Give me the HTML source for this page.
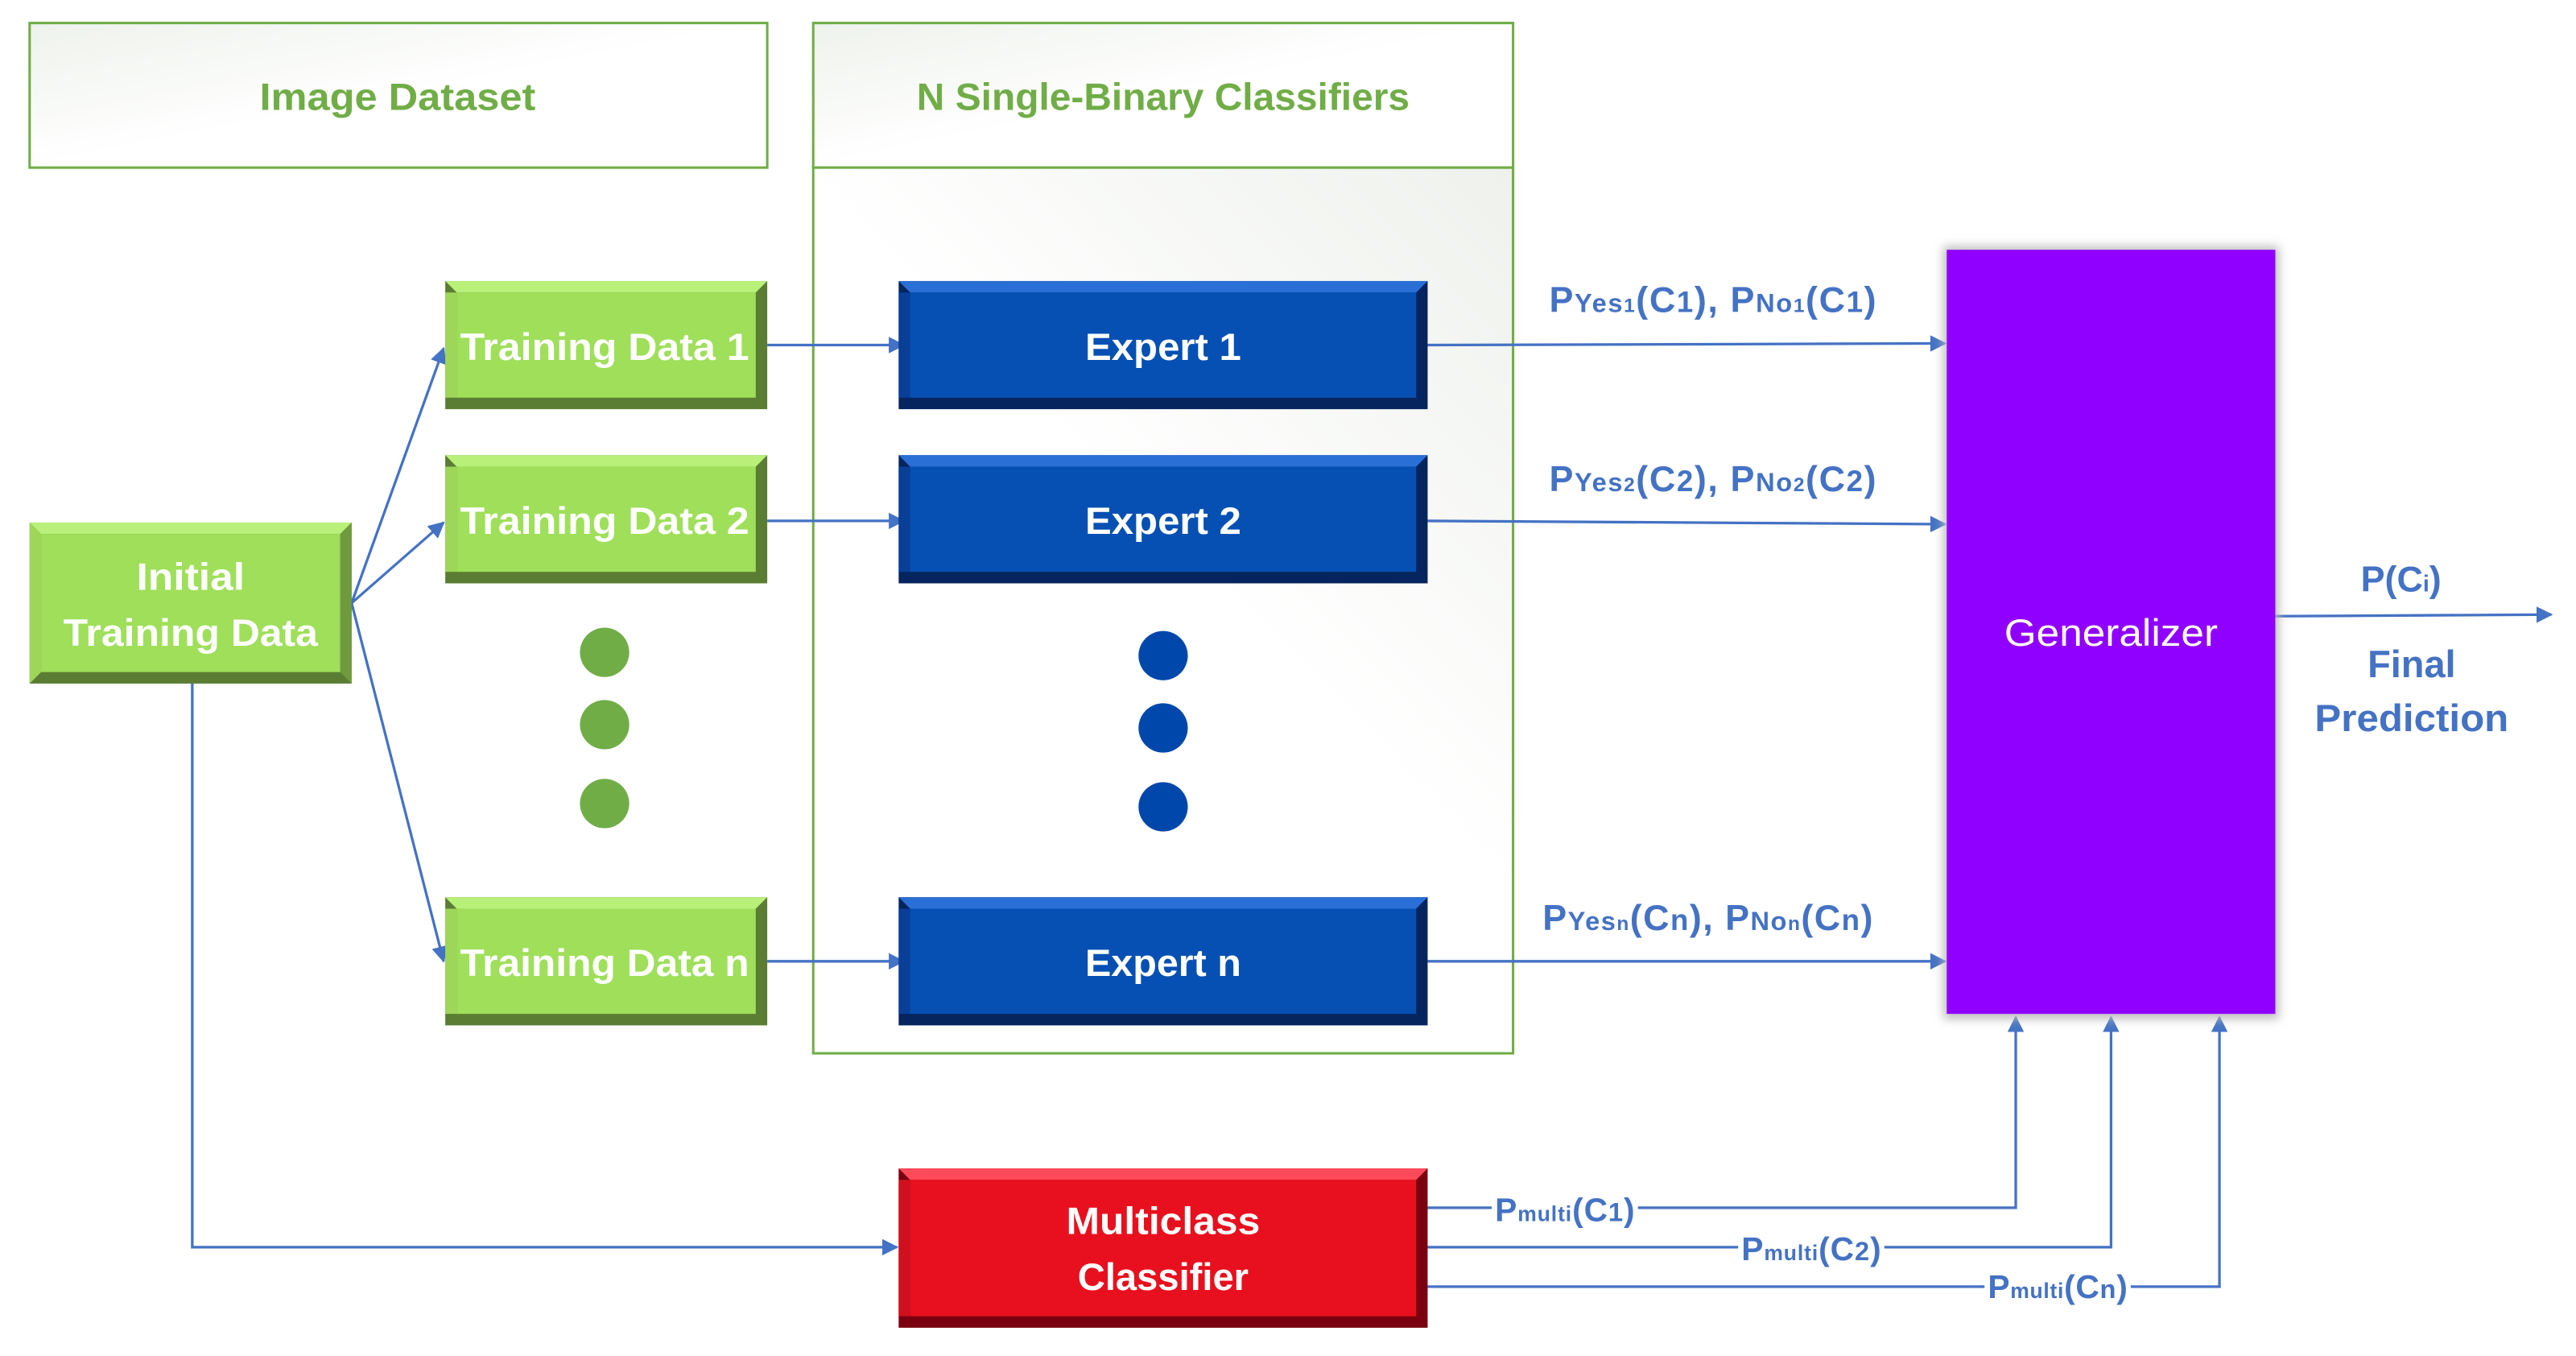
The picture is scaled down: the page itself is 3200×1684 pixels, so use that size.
<!DOCTYPE html>
<html><head><meta charset="utf-8"><style>html,body{margin:0;padding:0;background:#fff}svg{display:block}</style></head>
<body>
<svg width="3200" height="1684" viewBox="0 0 1568 825.2" xmlns="http://www.w3.org/2000/svg" font-family="Liberation Sans, sans-serif">
<defs>
<linearGradient id="hdr" x1="0" y1="0" x2="1" y2="1"><stop offset="0" stop-color="#eef2ec"/><stop offset="0.5" stop-color="#ffffff"/></linearGradient>
<linearGradient id="body" x1="1" y1="0" x2="0.6" y2="0.5"><stop offset="0" stop-color="#eef1ec"/><stop offset="1" stop-color="#ffffff"/></linearGradient>
<marker id="ar" markerWidth="10" markerHeight="10" refX="9" refY="5" orient="auto" markerUnits="userSpaceOnUse"><path d="M0,0 L10,5 L0,10 z" fill="#4472c4"/></marker>
<filter id="sh" x="-10%" y="-5%" width="120%" height="110%"><feGaussianBlur stdDeviation="3"/></filter>
</defs>

<rect x="18" y="14" width="449" height="88" fill="url(#hdr)" stroke="#70ad47" stroke-width="1.5"/>
<text x="242" y="67" text-anchor="middle" font-size="23" font-weight="bold" fill="#70ad47" textLength="168" lengthAdjust="spacingAndGlyphs">Image Dataset</text>
<rect x="495" y="14" width="426" height="88" fill="url(#hdr)" stroke="#70ad47" stroke-width="1.5"/>
<text x="708" y="67" text-anchor="middle" font-size="23" font-weight="bold" fill="#70ad47" textLength="300" lengthAdjust="spacingAndGlyphs">N Single-Binary Classifiers</text>
<rect x="495" y="102" width="426" height="539" fill="url(#body)" stroke="#70ad47" stroke-width="1.5"/>

<g stroke="#4472c4" stroke-width="1.6" fill="none">
<line x1="214" y1="367" x2="270" y2="212" marker-end="url(#ar)"/>
<line x1="214" y1="367" x2="270" y2="318" marker-end="url(#ar)"/>
<line x1="214" y1="367" x2="270" y2="585" marker-end="url(#ar)"/>
<line x1="467" y1="210" x2="550" y2="210" marker-end="url(#ar)"/>
<line x1="467" y1="317" x2="550" y2="317" marker-end="url(#ar)"/>
<line x1="467" y1="585" x2="550" y2="585" marker-end="url(#ar)"/>
<line x1="869" y1="210" x2="1184" y2="209" marker-end="url(#ar)"/>
<line x1="869" y1="317" x2="1184" y2="319" marker-end="url(#ar)"/>
<line x1="869" y1="585" x2="1184" y2="585" marker-end="url(#ar)"/>
<line x1="1385" y1="375" x2="1553" y2="374" marker-end="url(#ar)"/>
<polyline points="117,416 117,759 546,759" marker-end="url(#ar)"/>
<polyline points="869,735 1227,735 1227,619" marker-end="url(#ar)"/>
<polyline points="869,759 1285,759 1285,619" marker-end="url(#ar)"/>
<polyline points="869,783 1351,783 1351,619" marker-end="url(#ar)"/>
</g>

<g font-weight="bold" fill="#fff" font-size="23" text-anchor="middle">
<rect x="18" y="318" width="196" height="98" fill="#5b7d33"/>
<polygon points="18,318 214,318 207,325 25,325" fill="#b8f07a"/>
<polygon points="18,318 25,325 25,409 18,416" fill="#9ed65a"/>
<polygon points="214,318 207,325 207,409 214,416" fill="#6f9a3e"/>
<rect x="25" y="325" width="182" height="84" fill="#9fdf5a"/>
<text x="116" y="359" textLength="66" lengthAdjust="spacingAndGlyphs">Initial</text>
<text x="116" y="393" textLength="155" lengthAdjust="spacingAndGlyphs">Training Data</text>

<g>
<rect x="271" y="171" width="196" height="78" fill="#5b7d33"/>
<polygon points="271,171 467,171 460,178 278,178" fill="#b8f07a"/>
<rect x="271" y="178" width="7" height="64" fill="#9ed65a"/>
<rect x="278" y="178" width="182" height="64" fill="#9fdf5a"/>
<text x="368" y="219" textLength="176" lengthAdjust="spacingAndGlyphs">Training Data 1</text>
</g>
<g>
<rect x="271" y="277" width="196" height="78" fill="#5b7d33"/>
<polygon points="271,277 467,277 460,284 278,284" fill="#b8f07a"/>
<rect x="271" y="284" width="7" height="64" fill="#9ed65a"/>
<rect x="278" y="284" width="182" height="64" fill="#9fdf5a"/>
<text x="368" y="325" textLength="176" lengthAdjust="spacingAndGlyphs">Training Data 2</text>
</g>
<g>
<rect x="271" y="546" width="196" height="78" fill="#5b7d33"/>
<polygon points="271,546 467,546 460,553 278,553" fill="#b8f07a"/>
<rect x="271" y="553" width="7" height="64" fill="#9ed65a"/>
<rect x="278" y="553" width="182" height="64" fill="#9fdf5a"/>
<text x="368" y="594" textLength="176" lengthAdjust="spacingAndGlyphs">Training Data n</text>
</g>

<g>
<rect x="547" y="171" width="322" height="78" fill="#06245e"/>
<polygon points="547,171 869,171 862,178 554,178" fill="#2a6fd6"/>
<rect x="547" y="178" width="7" height="64" fill="#0a3f98"/>
<rect x="554" y="178" width="308" height="64" fill="#0650b4"/>
<text x="708" y="219" textLength="95" lengthAdjust="spacingAndGlyphs">Expert 1</text>
</g>
<g>
<rect x="547" y="277" width="322" height="78" fill="#06245e"/>
<polygon points="547,277 869,277 862,284 554,284" fill="#2a6fd6"/>
<rect x="547" y="284" width="7" height="64" fill="#0a3f98"/>
<rect x="554" y="284" width="308" height="64" fill="#0650b4"/>
<text x="708" y="325" textLength="95" lengthAdjust="spacingAndGlyphs">Expert 2</text>
</g>
<g>
<rect x="547" y="546" width="322" height="78" fill="#06245e"/>
<polygon points="547,546 869,546 862,553 554,553" fill="#2a6fd6"/>
<rect x="547" y="553" width="7" height="64" fill="#0a3f98"/>
<rect x="554" y="553" width="308" height="64" fill="#0650b4"/>
<text x="708" y="594" textLength="95" lengthAdjust="spacingAndGlyphs">Expert n</text>
</g>

<rect x="547" y="711" width="322" height="97" fill="#7a0010"/>
<polygon points="547,711 869,711 862,718 554,718" fill="#ff4a5a"/>
<rect x="547" y="718" width="7" height="83" fill="#d0101e"/>
<rect x="554" y="718" width="308" height="83" fill="#e8101e"/>
<text x="708" y="751" textLength="118" lengthAdjust="spacingAndGlyphs">Multiclass</text>
<text x="708" y="785" textLength="104" lengthAdjust="spacingAndGlyphs">Classifier</text>
</g>

<g fill="#70ad47"><circle cx="368" cy="397" r="15"/><circle cx="368" cy="441" r="15"/><circle cx="368" cy="489" r="15"/></g>
<g fill="#0047ab"><circle cx="708" cy="399" r="15"/><circle cx="708" cy="443" r="15"/><circle cx="708" cy="491" r="15"/></g>

<rect x="1183" y="150" width="204" height="470" fill="#bbb" filter="url(#sh)"/>
<rect x="1185" y="152" width="200" height="465" fill="#9000ff"/>
<text x="1285" y="393" text-anchor="middle" font-size="23" fill="#fff" textLength="130" lengthAdjust="spacingAndGlyphs">Generalizer</text>

<g fill="#4472c4" font-weight="bold">
<text x="943" y="190" font-size="22" textLength="199" lengthAdjust="spacing">P<tspan font-size="16">Yes</tspan><tspan font-size="12">1</tspan>(C<tspan font-size="18">1</tspan>), P<tspan font-size="16">No</tspan><tspan font-size="12">1</tspan>(C<tspan font-size="18">1</tspan>)</text>
<text x="943" y="299" font-size="22" textLength="199" lengthAdjust="spacing">P<tspan font-size="16">Yes</tspan><tspan font-size="12">2</tspan>(C<tspan font-size="18">2</tspan>), P<tspan font-size="16">No</tspan><tspan font-size="12">2</tspan>(C<tspan font-size="18">2</tspan>)</text>
<text x="939" y="566" font-size="22" textLength="201" lengthAdjust="spacing">P<tspan font-size="16">Yes</tspan><tspan font-size="12">n</tspan>(C<tspan font-size="18">n</tspan>), P<tspan font-size="16">No</tspan><tspan font-size="12">n</tspan>(C<tspan font-size="18">n</tspan>)</text>
<text x="1437" y="360" font-size="22">P(C<tspan font-size="14">i</tspan>)</text>
<text x="1468" y="412" font-size="23" text-anchor="middle">Final</text>
<text x="1468" y="445" font-size="23" text-anchor="middle" textLength="118" lengthAdjust="spacingAndGlyphs">Prediction</text>
</g>
<g fill="#4472c4" font-weight="bold" font-size="20">
<rect x="908" y="724" width="89" height="22" fill="#fff"/>
<text x="910" y="743" textLength="85" lengthAdjust="spacing">P<tspan font-size="13">multi</tspan>(C<tspan font-size="16">1</tspan>)</text>
<rect x="1058" y="748" width="89" height="22" fill="#fff"/>
<text x="1060" y="767" textLength="85" lengthAdjust="spacing">P<tspan font-size="13">multi</tspan>(C<tspan font-size="16">2</tspan>)</text>
<rect x="1208" y="772" width="89" height="22" fill="#fff"/>
<text x="1210" y="790" textLength="85" lengthAdjust="spacing">P<tspan font-size="13">multi</tspan>(C<tspan font-size="16">n</tspan>)</text>
</g>
</svg>
</body></html>
